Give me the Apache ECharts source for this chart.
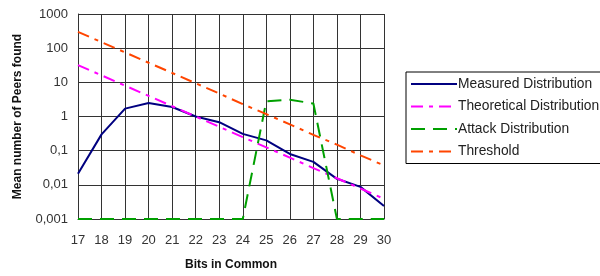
<html lang="en">
<head>
<meta charset="UTF-8" />
<script src="https://cdn.jsdelivr.net/npm/echarts@6/dist/echarts.min.js"></script>
<style>
* { padding: 0; margin: 0; }
body { background: #fff; }
</style>
</head>
<body>
<div id="main" style="width:600px;height:276px"></div>
<script>
// categories (bits in common)
var bits = ["17", "18", "19", "20", "21", "22", "23", "24", "25", "26", "27", "28", "29", "30"]
// series
var measured = [0.021, 0.3, 1.7, 2.5, 1.9, 1.0, 0.68, 0.31, 0.2, 0.08, 0.047, 0.015, 0.0087, 0.0024]
var theoretical = [32, 16, 8, 4, 2, 1, 0.5, 0.25, 0.125, 0.0625, 0.031, 0.0156, 0.0078, 0.0039]
var attack = [0.001, 0.001, 0.001, 0.001, 0.001, 0.001, 0.001, 0.001, 2.8, 3.1, 2.4, 0.001, 0.001, 0.001]
var threshold = [300, 150, 75, 37.5, 18.8, 9.4, 4.7, 2.3, 1.17, 0.59, 0.29, 0.15, 0.073, 0.037]
var yTicks = { 1000: "1000", 100: "100", 10: "10", 1: "1", 0.1: "0,1", 0.01: "0,01", 0.001: "0,001" }

var font = "Liberation Sans, Arial, sans-serif"
var myChart = echarts.init(document.getElementById("main"))

function line(name, data, color, type, width) {
	return {
		name: name,
		type: "line",
		data: data,
		symbol: "none",
		animation: false,
		lineStyle: { color: color, width: width, type: type },
		itemStyle: { color: color }
	}
}

var option = {
	backgroundColor: "#fff",
	animation: false,
	textStyle: { fontFamily: font },
	grid: { left: 78, right: 216, top: 14, bottom: 55, containLabel: false },
	legend: {
		orient: "vertical",
		left: 406,
		top: 72,
		padding: [5, 4, 5, 4],
		itemWidth: 46,
		itemHeight: 14,
		itemGap: 8.5,
		borderColor: "#000",
		borderWidth: 1,
		itemStyle: { opacity: 0 },
		textStyle: { fontSize: 13.8, color: "#222", fontFamily: font, padding: [0, 0, 0, -4] },
		data: ["Measured Distribution", "Theoretical Distribution", "Attack Distribution", "Threshold"]
	},
	xAxis: {
		type: "category",
		data: bits,
		boundaryGap: false,
		name: "Bits in Common",
		nameLocation: "middle",
		nameGap: 40,
		nameTextStyle: { fontSize: 12, fontWeight: "bold", color: "#111", fontFamily: font },
		axisLine: { lineStyle: { color: "#333" } },
		axisTick: { show: false },
		axisLabel: { fontSize: 13, color: "#333", margin: 15, interval: 0, fontFamily: font },
		splitLine: { show: true, lineStyle: { color: "#333", width: 1 } }
	},
	yAxis: {
		type: "log",
		logBase: 10,
		min: 0.001,
		max: 1000,
		name: "Mean number of Peers found",
		nameLocation: "middle",
		nameGap: 54,
		nameTextStyle: { fontSize: 12, fontWeight: "bold", color: "#111", fontFamily: font },
		axisLine: { show: true, lineStyle: { color: "#333" } },
		axisTick: { show: false },
		axisLabel: {
			fontSize: 13,
			color: "#333",
			margin: 10,
			fontFamily: font,
			formatter: function(v) {
				var k = Number(v.toPrecision(3))
				return yTicks[k] !== undefined ? yTicks[k] : ""
			}
		},
		splitLine: { show: true, lineStyle: { color: "#333", width: 1 } }
	},
	series: [
		line("Measured Distribution", measured, "#000080", "solid", 2),
		line("Theoretical Distribution", theoretical, "#ff00ff", [12, 6, 4, 6], 2),
		line("Attack Distribution", attack, "#00a000", [14, 8], 2),
		line("Threshold", threshold, "#ff4500", [12, 6, 4, 6], 2)
	]
}
myChart.setOption(option)
</script>
</body>
</html>
